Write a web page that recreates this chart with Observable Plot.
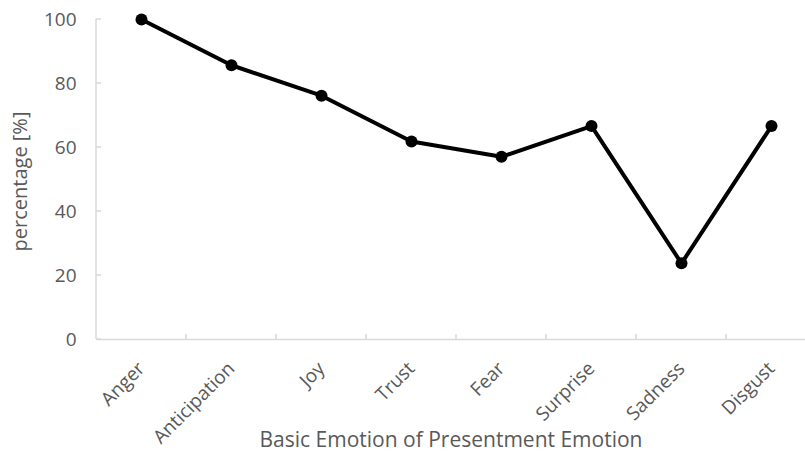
<!DOCTYPE html>
<html>
<head>
<meta charset="utf-8">
<script src="https://cdn.jsdelivr.net/npm/d3@7"></script>
<script src="https://cdn.jsdelivr.net/npm/@observablehq/plot@0.6"></script>
<style>
  body { margin: 0; background: #fff; }
  svg { display: block; }
</style>
</head>
<body>
<div id="chart"></div>
<script>
// Share of responses per basic emotion
const emotions = ["Anger", "Anticipation", "Joy", "Trust", "Fear", "Surprise", "Sadness", "Disgust"];
const percentages = [100, 85.7, 76.2, 61.9, 57.1, 66.7, 23.8, 66.7];
const yTicks = [0, 20, 40, 60, 80, 100];
const xTitle = "Basic Emotion of Presentment Emotion";
const yTitle = "percentage [%]";

const data = emotions.map((emotion, i) => ({ emotion, pct: percentages[i] }));

const font = "'Open Sans', Lato, sans-serif";
const textGrey = "#595959";
const axisGrey = "#d9d9d9";

const chart = Plot.plot({
  width: 805,
  height: 454,
  marginTop: 19,
  marginBottom: 115,
  marginLeft: 96,
  marginRight: 0,
  style: { fontFamily: font, background: "#fff", color: textGrey, overflow: "visible" },
  x: { type: "band", domain: emotions, range: [96, 816], padding: 0, axis: null },
  y: { domain: [0, 100], axis: null },
  marks: [
    Plot.ruleY([0], { stroke: axisGrey, strokeWidth: 1.5 }),
    Plot.axisY(yTicks, { tickSize: 0, tickPadding: 20, fontSize: 19, fill: textGrey, label: null }),
    Plot.text(emotions, {
      x: d => d, y: 0, text: d => d, rotate: -45, textAnchor: "end", lineAnchor: "middle",
      dx: 0, dy: 26, fontSize: 19, fill: textGrey
    }),
    Plot.text([xTitle], { frameAnchor: "bottom", textAnchor: "middle", lineAnchor: "middle", dy: 101, fontSize: 21, fill: textGrey }),
    Plot.text([yTitle], { frameAnchor: "left", textAnchor: "middle", rotate: -90, dx: -76, dy: 2, fontSize: 20, fill: textGrey }),
    Plot.line(data, { x: "emotion", y: "pct", stroke: "#000", strokeWidth: 4, strokeLinejoin: "round" }),
    Plot.dot(data, { x: "emotion", y: "pct", r: 6, fill: "#000", stroke: "none" })
  ]
});

// Axis line and inward ticks, placed through the chart's own scales
const sx = chart.scale("x");
const sy = chart.scale("y");
const svg = d3.select(chart);
const axes = svg.insert("g", ":first-child").attr("stroke", axisGrey).attr("stroke-width", 1.5);
const x0 = sx.apply(emotions[0]);
axes.append("line")
  .attr("x1", x0).attr("x2", x0)
  .attr("y1", sy.apply(100)).attr("y2", sy.apply(0));
yTicks.forEach(t => {
  axes.append("line")
    .attr("x1", x0).attr("x2", x0 + 5)
    .attr("y1", sy.apply(t)).attr("y2", sy.apply(t));
});
emotions.slice(1).forEach(e => {
  const bx = sx.apply(e);
  axes.append("line")
    .attr("x1", bx).attr("x2", bx)
    .attr("y1", sy.apply(0)).attr("y2", sy.apply(0) - 5);
});

document.getElementById("chart").append(chart);
</script>
</body>
</html>
